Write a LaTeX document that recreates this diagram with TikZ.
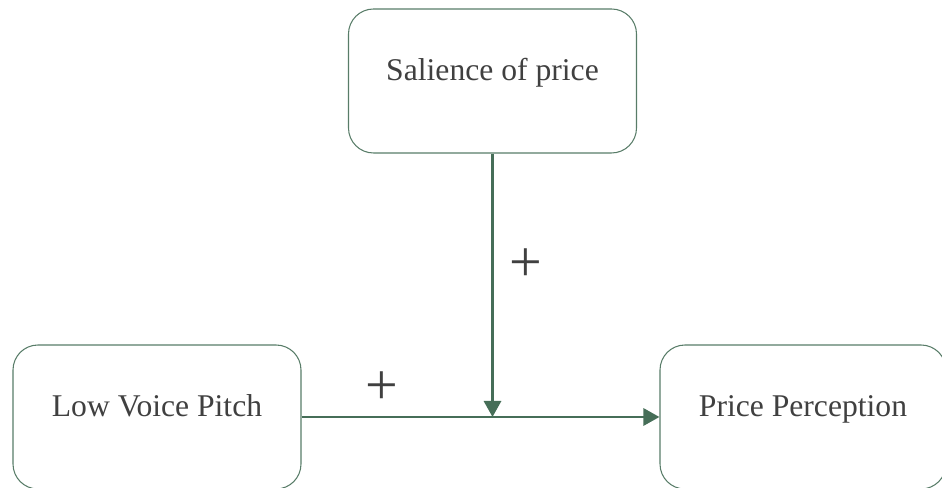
\documentclass[tikz,border=0pt]{standalone}
\usepackage{fontspec}
\setmainfont{Liberation Serif}
\usetikzlibrary{arrows.meta}
\definecolor{boxgreen}{RGB}{88,124,104}
\definecolor{arrowgreen}{RGB}{70,110,88}
\definecolor{txtgray}{RGB}{64,64,64}
\tikzset{
  varbox/.style={draw=boxgreen, line width=0.6pt, rounded corners=0.5cm,
    minimum width=5.76cm, minimum height=2.88cm, text=txtgray,
    font=\fontsize{18}{18}\selectfont, text height=0.5cm, text depth=0.5cm},
  signlbl/.style={text=txtgray, font=\fontsize{33}{33}\selectfont, inner sep=0pt},
  link/.style={draw=arrowgreen, line width=1.7pt, -{Triangle[length=0.32cm,width=0.34cm]}}
}
\begin{document}
\begin{tikzpicture}
\useasboundingbox (0,0) rectangle (18.84,9.76);
\node[varbox] (v0) at (9.85,8.14) {Salience of price};
\node[varbox] (v1) at (3.14,1.42) {Low Voice Pitch};
\node[varbox, minimum width=5.72cm] (v2) at (16.06,1.42) {Price Perception};
\coordinate (m) at (9.85,1.42);
\node[signlbl] (p0) at (10.52,4.45) {+};
\node[signlbl] (p1) at (7.64,2.0) {+};
\draw [link] (v1.east) -- (v2.west);
\draw [link] (v0.south) -- (m);
\end{tikzpicture}
\end{document}
